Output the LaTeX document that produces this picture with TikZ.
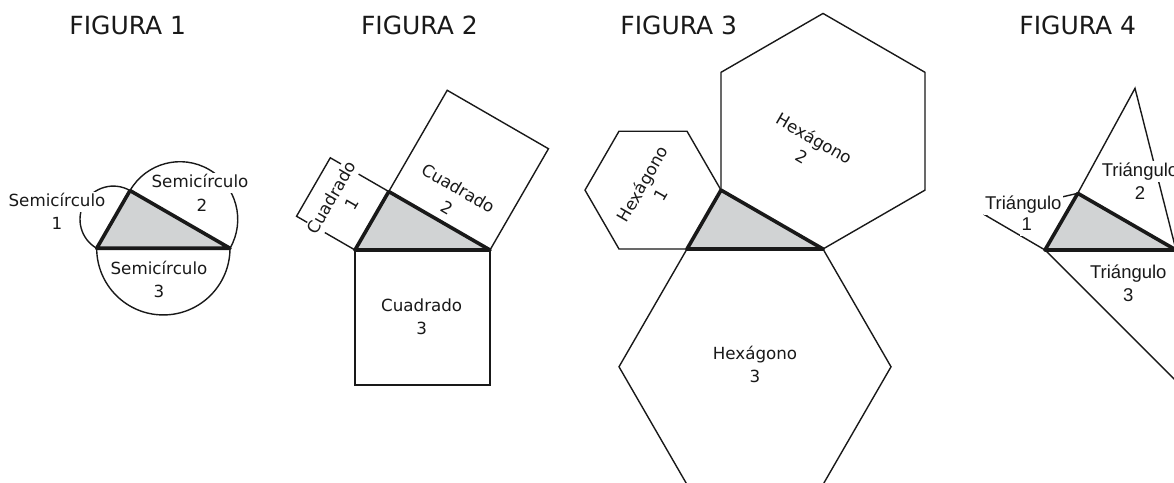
\documentclass[tikz,border=0pt]{standalone}
\usepackage{fontspec}
\setmainfont{DejaVu Sans}
\newfontfamily\arialf{Liberation Sans}
\definecolor{ink}{RGB}{25,25,25}
\definecolor{shade}{RGB}{209,211,212}
\begin{document}
\begin{tikzpicture}[x=1pt,y=1pt,
  shp/.style={line width=1.4pt, draw=ink, line join=miter},
  tri/.style={line width=3.6pt, draw=ink, fill=shade, line join=round},
  lab/.style={font=\fontsize{16.7}{20}\selectfont, fill=white, inner sep=2pt, text height=12.5pt, text depth=3.5pt, text=ink},
  labf/.style={font=\arialf\fontsize{18.5}{22}\selectfont, fill=white, inner sep=1.5pt, text height=13.5pt, text depth=4pt, text=ink},
  ttl/.style={font=\fontsize{25}{30}\selectfont, inner sep=0pt, anchor=base west, text=ink}]
\useasboundingbox (0,0) rectangle (1174,482);
\clip (0,0) rectangle (1174,482);

% titles
\node[ttl] (T1) at (69.2,447) {FIGURA 1};
\node[ttl] (T2) at (360.8,447) {FIGURA 2};
\node[ttl] (T3) at (620.2,447) {FIGURA 3};
\node[ttl] (T4) at (1019.2,447) {FIGURA 4};

% ---------- Figure 1 ----------
\coordinate (A1) at (96.7,233.7);
\coordinate (B1) at (130,291.44);
\coordinate (C1) at (230,233.7);
\draw[shp] (C1) arc[start angle=0,end angle=-180,radius=66.65];
\draw[shp] (C1) arc[start angle=-30,end angle=150,radius=57.73];
\draw[shp] (B1) arc[start angle=60,end angle=240,radius=33.33];
\node[lab] (s1a) at (57,280) {Semicírculo};
\node[lab] (s1b) at (57,257) {1};
\node[lab] (s2a) at (200,299) {Semicírculo};
\node[lab] (s2b) at (202,275) {2};
\node[lab] (s3a) at (159,212) {Semicírculo};
\node[lab] (s3b) at (159,189) {3};
\filldraw[tri] (A1) -- (B1) -- (C1) -- cycle;

% ---------- Figure 2 ----------
\coordinate (A2) at (355,232);
\coordinate (B2) at (388.75,290.46);
\coordinate (C2) at (490,232);
\coordinate (D2) at (490,97);
\coordinate (E2) at (355,97);
\coordinate (F2) at (447.21,391.71);
\coordinate (G2) at (548.46,333.25);
\coordinate (H2) at (296.54,265.75);
\coordinate (I2) at (330.29,324.21);
\draw[shp] (A2) -- (E2) -- (D2) -- (C2);
\draw[shp] (B2) -- (F2) -- (G2) -- (C2);
\draw[shp] (A2) -- (H2) -- (I2) -- (B2);
\node[lab,rotate=60] (q1a) at (332.9,283.7) {Cuadrado};
\node[lab,rotate=60] (q1b) at (353.6,277.5) {1};
\node[lab,rotate=-30] (q2a) at (457.4,292.4) {Cuadrado};
\node[lab,rotate=-30] (q2b) at (445.9,272.5) {2};
\node[lab] (q3a) at (421.7,175.3) {Cuadrado};
\node[lab] (q3b) at (421.7,152) {3};
\filldraw[tri] (A2) -- (B2) -- (C2) -- cycle;

% ---------- Figure 3 ----------
\coordinate (A3) at (687,233);
\coordinate (B3) at (721,291.89);
\coordinate (C3) at (823,233);
% hexagon 3
\coordinate (K1) at (891,115.22);
\coordinate (K2) at (823,-2.56);
\coordinate (K3) at (687,-2.56);
\coordinate (K4) at (619,115.22);
\draw[shp] (A3) -- (C3) -- (K1) -- (K2) -- (K3) -- (K4) -- cycle;
% hexagon 1
\coordinate (J1) at (687,350.78);
\coordinate (J2) at (619,350.78);
\coordinate (J3) at (585,291.89);
\coordinate (J4) at (619,233);
\draw[shp] (A3) -- (B3) -- (J1) -- (J2) -- (J3) -- (J4) -- cycle;
% hexagon 2
\coordinate (L1) at (925,291.89);
\coordinate (L2) at (925,409.67);
\coordinate (L3) at (823,468.56);
\coordinate (L4) at (721,409.67);
\draw[shp] (B3) -- (C3) -- (L1) -- (L2) -- (L3) -- (L4) -- cycle;
\node[lab,rotate=60] (h1a) at (643.9,297.2) {Hexágono};
\node[lab,rotate=60] (h1b) at (662.1,286.7) {1};
\node[lab,rotate=-30] (h2a) at (813.3,342) {Hexágono};
\node[lab,rotate=-30] (h2b) at (800.7,323.7) {2};
\node[lab] (h3a) at (755,127) {Hexágono};
\node[lab] (h3b) at (755,103.7) {3};
\filldraw[tri] (A3) -- (B3) -- (C3) -- cycle;

% ---------- Figure 4 ----------
\coordinate (A4) at (1045,232);
\coordinate (B4) at (1077.75,288.7);
\coordinate (C4) at (1176,232);
\coordinate (P4) at (985,267);
\coordinate (Q4) at (1135,393.7);
\coordinate (R4) at (1180,97);
\draw[shp] (A4) -- (P4) -- (B4);
\draw[shp] (B4) -- (Q4) -- (C4);
\draw[shp] (A4) -- (R4) -- (C4);
\node[labf] (t1a) at (1023.3,277) {Triángulo};
\node[labf] (t1b) at (1026.7,256) {1};
\node[labf] (t2a) at (1140,310.3) {Triángulo};
\node[labf] (t2b) at (1140,287) {2};
\node[labf] (t3a) at (1128.3,208.7) {Triángulo};
\node[labf] (t3b) at (1128.3,185.3) {3};
\filldraw[tri] (A4) -- (B4) -- (C4) -- cycle;
\end{tikzpicture}
\end{document}
